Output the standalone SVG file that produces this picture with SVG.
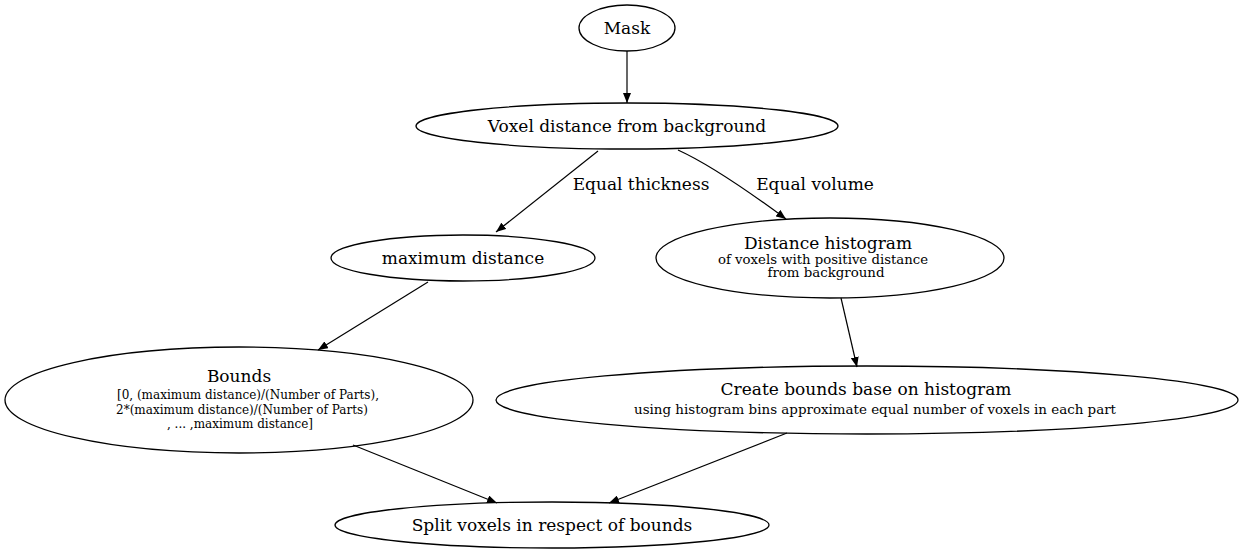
<svg xmlns="http://www.w3.org/2000/svg" width="1243" height="555" viewBox="0 0 1243 555">
<style>
ellipse{fill:none;stroke:#000;stroke-width:1.3}
text{font-family:"DejaVu Serif","Liberation Serif",serif;text-anchor:middle;fill:#000}
.m{font-size:17px}
.s{font-size:12px}
.e path{fill:none;stroke:#000;stroke-width:1.2;marker-end:url(#a)}
</style>
<defs><marker id="a" markerWidth="10" markerHeight="8" refX="10" refY="4" orient="auto" markerUnits="userSpaceOnUse"><path d="M0,0L10,4L0,8z" fill="#000"/></marker></defs>
<rect width="1243" height="555" fill="#fff"/>
<g class="e">
<path d="M627,51L627,103"/>
<path d="M598,151L496,232"/>
<path d="M678,150C700,160 740,185 786,219"/>
<path d="M428,282L318,350"/>
<path d="M841,298L857,367"/>
<path d="M353,445L497,503"/>
<path d="M787,433L609,503"/>
<text class="m" x="641" y="190">Equal thickness</text>
<text class="m" x="815" y="190">Equal volume</text>
</g>
<g id="mask"><ellipse cx="627" cy="28" rx="48" ry="23"/><text class="m" x="627" y="34">Mask</text></g>
<g id="voxel"><ellipse cx="627" cy="126" rx="211" ry="23"/><text class="m" x="627" y="132">Voxel distance from background</text></g>
<g id="maxd"><ellipse cx="463" cy="258" rx="132" ry="23"/><text class="m" x="463" y="264">maximum distance</text></g>
<g id="hist"><ellipse cx="830" cy="258" rx="174" ry="40"/><text class="m" x="828" y="249">Distance histogram</text><text class="s" x="823" y="264" textLength="210" lengthAdjust="spacingAndGlyphs">of voxels with positive distance</text><text class="s" x="826" y="277" textLength="117" lengthAdjust="spacingAndGlyphs">from background</text></g>
<g id="bounds"><ellipse cx="239" cy="400" rx="234" ry="53"/><text class="m" x="239" y="382">Bounds</text><text class="s" x="248" y="399">[0, (maximum distance)/(Number of Parts),</text><text class="s" x="242" y="414">2*(maximum distance)/(Number of Parts)</text><text class="s" x="240" y="428">, ... ,maximum distance]</text></g>
<g id="create"><ellipse cx="867" cy="400" rx="371" ry="34"/><text class="m" x="866" y="395">Create bounds base on histogram</text><text class="s" x="875" y="414" textLength="482" lengthAdjust="spacingAndGlyphs">using histogram bins approximate equal number of voxels in each part</text></g>
<g id="split"><ellipse cx="552" cy="525" rx="217" ry="23"/><text class="m" x="552" y="531">Split voxels in respect of bounds</text></g>
</svg>
